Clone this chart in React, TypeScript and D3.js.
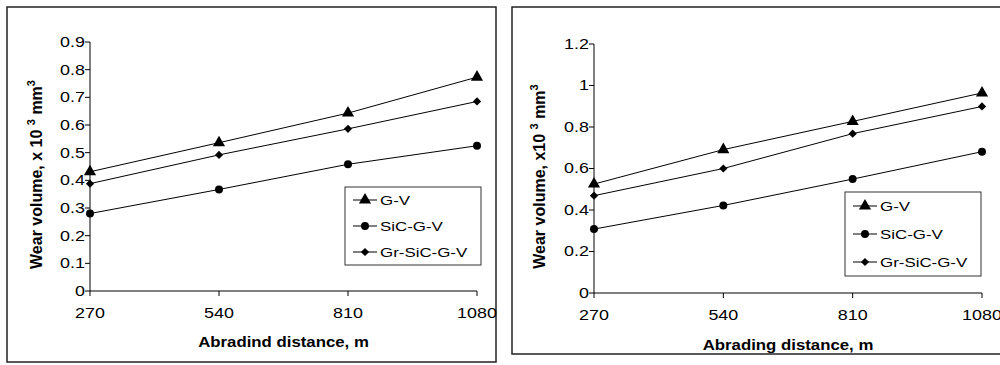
import * as d3 from 'd3';

// distances (m)
const distances = [270, 540, 810, 1080];
const seriesNames = ['G-V', 'SiC-G-V', 'Gr-SiC-G-V'];

// left chart: abrasive wear volume, x10^3 mm^3
const leftGV = [0.431, 0.536, 0.643, 0.773];
const leftSiC = [0.28, 0.367, 0.458, 0.525];
const leftGr = [0.388, 0.492, 0.586, 0.685];
const leftTicks = [0, 0.1, 0.2, 0.3, 0.4, 0.5, 0.6, 0.7, 0.8, 0.9];

// right chart
const rightGV = [0.525, 0.691, 0.827, 0.964];
const rightSiC = [0.308, 0.422, 0.549, 0.681];
const rightGr = [0.469, 0.6, 0.768, 0.899];
const rightTicks = [0, 0.2, 0.4, 0.6, 0.8, 1, 1.2];

const FONT = 'Liberation Sans, Arial, sans-serif';
const markerTypes = [d3.symbolTriangle, d3.symbolCircle, d3.symbolSquare];
const markerSizes = [64, 50, 34];
const markerRot = [0, 0, 45];

function marker(si: number, cx: number, cy: number, key?: number) {
  return (
    <path key={key} transform={`translate(${cx},${cy}) rotate(${markerRot[si]})`}
      d={d3.symbol(markerTypes[si], markerSizes[si])() || ''} fill="#000" />
  );
}

// the source figure is a little stretched sideways, so text gets a horizontal scale
function SText(props: { x: number; y: number; size: number; sx: number; anchor?: string; bold?: boolean; children: any }) {
  return (
    <text transform={`translate(${props.x},${props.y}) scale(${props.sx},1)`} dy="0.35em"
      textAnchor={props.anchor || 'start'} fontSize={props.size} fontFamily={FONT}
      fontWeight={props.bold ? 'bold' : 'normal'} fill="#000">{props.children}</text>
  );
}

type PanelProps = {
  frame: { x: number; y: number; w: number; h: number };
  plot: { left: number; right: number; top: number; bottom: number };
  yMax: number;
  yTicks: number[];
  series: number[][];
  xTitle: string;
  yTitleLead: string;
  legend: { x: number; y: number; w: number; h: number };
  yTitleX: number;
  xTitleY: number;
  xTickY: number;
};

function Panel(p: PanelProps) {
  const x = d3.scalePoint<number>().domain(distances).range([p.plot.left, p.plot.right]);
  const y = d3.scaleLinear().domain([0, p.yMax]).range([p.plot.bottom, p.plot.top]);
  const line = d3.line<number>()
    .x((d, i) => x(distances[i]) as number)
    .y(d => y(d));
  const yMid = (p.plot.top + p.plot.bottom) / 2 + 8;
  const xMid = (p.plot.left + p.plot.right) / 2;
  const rowH = p.legend.h / 3;

  return (
    <g>
      <rect x={p.frame.x} y={p.frame.y} width={p.frame.w} height={p.frame.h}
        fill="white" stroke="#222" strokeWidth={1.5} />
      {/* y axis */}
      <line x1={p.plot.left} x2={p.plot.left} y1={y(p.yMax)} y2={p.plot.bottom} stroke="#000" />
      {p.yTicks.map(t => (
        <g key={t}>
          <line x1={p.plot.left - 5} x2={p.plot.left} y1={y(t)} y2={y(t)} stroke="#000" />
          <SText x={p.plot.left - 5} y={y(t)} size={14} sx={1.28} anchor="end">{d3.format('~g')(t)}</SText>
        </g>
      ))}
      {/* x axis */}
      <line x1={p.plot.left} x2={p.plot.right} y1={p.plot.bottom} y2={p.plot.bottom} stroke="#000" />
      {distances.map(d => (
        <g key={d}>
          <line x1={x(d)} x2={x(d)} y1={p.plot.bottom} y2={p.plot.bottom + 5} stroke="#000" />
          <SText x={x(d) as number} y={p.xTickY} size={14} sx={1.28} anchor="middle">{d}</SText>
        </g>
      ))}
      {/* series */}
      {p.series.map((vals, si) => (
        <g key={si}>
          <path d={line(vals) || ''} fill="none" stroke="#000" strokeWidth={1} />
          {vals.map((v, i) => marker(si, x(distances[i]) as number, y(v), i))}
        </g>
      ))}
      {/* legend */}
      <rect x={p.legend.x} y={p.legend.y} width={p.legend.w} height={p.legend.h}
        fill="white" stroke="#333" strokeWidth={1} />
      {seriesNames.map((name, si) => {
        const cy = p.legend.y + rowH * (si + 0.5);
        return (
          <g key={name}>
            <line x1={p.legend.x + 8} x2={p.legend.x + 32} y1={cy} y2={cy} stroke="#000" />
            {marker(si, p.legend.x + 20, cy)}
            <SText x={p.legend.x + 35} y={cy} size={13} sx={1.3}>{name}</SText>
          </g>
        );
      })}
      {/* titles */}
      <SText x={xMid} y={p.xTitleY} size={14} sx={1.2} anchor="middle" bold>{p.xTitle}</SText>
      <text transform={`translate(${p.yTitleX},${yMid}) rotate(-90)`} textAnchor="middle" dy="0.35em"
        fontSize={16} fontWeight="bold" fontFamily={FONT} fill="#000">
        {p.yTitleLead}
        <tspan fontSize={11} dy={-7}>3</tspan>
        <tspan dy={7}> mm</tspan>
        <tspan fontSize={11} dy={-7}>3</tspan>
      </text>
    </g>
  );
}

export default function App() {
  return (
    <div style={{ position: 'absolute', left: 0, top: 0 }}>
      <svg width={1000} height={365} style={{ display: 'block', background: '#fff' }}>
        <Panel
          frame={{ x: 7, y: 7, w: 489, h: 355 }}
          plot={{ left: 90, right: 477, top: 42, bottom: 291 }}
          yMax={0.9}
          yTicks={leftTicks}
          series={[leftGV, leftSiC, leftGr]}
          xTitle="Abradind distance, m"
          yTitleLead="Wear volume, x 10 "
          legend={{ x: 345, y: 187, w: 136, h: 78 }}
          yTitleX={36}
          xTitleY={342}
          xTickY={313}
        />
        <Panel
          frame={{ x: 512, y: 7, w: 500, h: 347 }}
          plot={{ left: 594, right: 982, top: 44, bottom: 293 }}
          yMax={1.2}
          yTicks={rightTicks}
          series={[rightGV, rightSiC, rightGr]}
          xTitle="Abrading distance, m"
          yTitleLead="Wear volume, x10 "
          legend={{ x: 845, y: 192, w: 136, h: 84 }}
          yTitleX={539}
          xTitleY={345}
          xTickY={315.5}
        />
      </svg>
    </div>
  );
}
